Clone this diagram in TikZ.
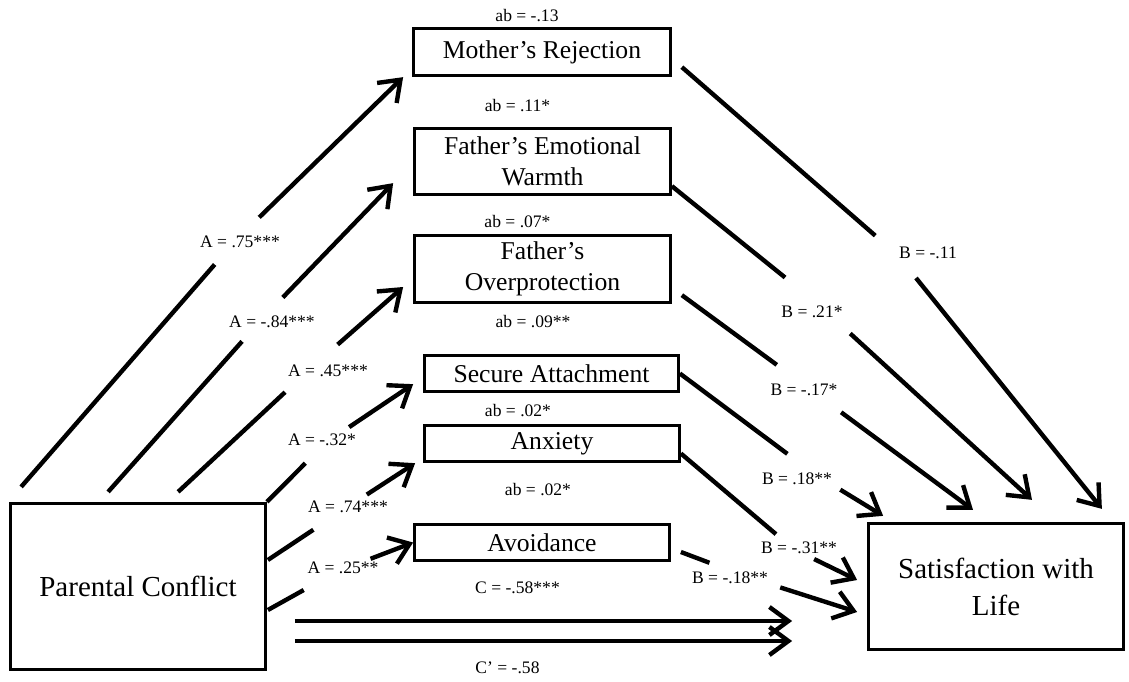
\documentclass[tikz,border=0pt]{standalone}
\usepackage{fontspec}
\setmainfont{Liberation Serif}
\usetikzlibrary{arrows.meta}
\tikzset{
  med/box/.style={
    draw=black,
    line width=1.6pt,
    fill=white,
    align=center,
    inner sep=2pt,
    font=\fontsize{14.6}{17.6}\selectfont
  },
  med/bigbox/.style={
    med/box,
    font=\fontsize{16.5}{21}\selectfont
  },
  med/coef/.style={font=\fontsize{10}{12}\selectfont, inner sep=1pt},
  med/line/.style={line width=2.5pt},
  med/arrow/.style={line width=2.5pt, -{Straight Barb[length=0.38cm,width=0.56cm]}}
}

\begin{document}
\begin{tikzpicture}[x=0.02cm,y=-0.02cm]
  \useasboundingbox (0,0) rectangle (1129,682);

  % constructs
  \node[med/box,minimum width=5.14cm,minimum height=0.95cm] (mr) at (542,52) {Mother’s Rejection};
  \node[med/box,minimum width=5.12cm,minimum height=1.33cm] (fw) at (542.5,161.5) {Father’s Emotional\\Warmth};
  \node[med/box,minimum width=5.12cm,minimum height=1.35cm] (fo) at (542.5,269) {Father’s\\Overprotection};
  \node[med/box,minimum width=5.08cm,minimum height=0.73cm] (sa) at (551.5,373.5) {Secure Attachment};
  \node[med/box,minimum width=5.1cm,minimum height=0.73cm] (ax) at (552,443.5) {Anxiety};
  \node[med/box,minimum width=5.1cm,minimum height=0.73cm] (av) at (542,542.5) {Avoidance};
  \node[med/bigbox,minimum width=5.1cm,minimum height=3.33cm] (pc) at (138,586.5) {Parental Conflict};
  \node[med/bigbox,minimum width=5.1cm,minimum height=2.53cm] (sw) at (996,586.5) {Satisfaction with\\Life};

  % indirect effects
  \node[med/coef] (ab1) at (527,16) {ab = -.13};
  \node[med/coef] (ab2) at (517.5,106) {ab = .11*};
  \node[med/coef] (ab3) at (517.5,222) {ab = .07*};
  \node[med/coef] (ab4) at (533,322) {ab = .09**};
  \node[med/coef] (ab5) at (518,411) {ab = .02*};
  \node[med/coef] (ab6) at (538,490) {ab = .02*};

  % a paths
  \node[med/coef] (la1) at (240,242) {A = .75***};
  \node[med/coef] (la2) at (272,322) {A = -.84***};
  \node[med/coef] (la3) at (328,371) {A = .45***};
  \node[med/coef] (la4) at (322,440) {A = -.32*};
  \node[med/coef] (la5) at (348,507) {A = .74***};
  \node[med/coef] (la6) at (343,568) {A = .25**};
  \coordinate (ka1) at (236,240);
  \coordinate (ka2) at (262,319);
  \coordinate (ka3) at (311,368);
  \coordinate (ka4) at (325.5,443);
  \coordinate (ka5) at (340,512);
  \coordinate (ka6) at (336,572);
  \draw[med/line,shorten >=0.65cm] ([shift={(12,-15)}]pc.north west) -- (ka1);
  \draw[med/arrow,shorten <=0.65cm] (ka1) -- ([shift={(-9,0)}]mr.south west);
  \draw[med/line,shorten >=0.6cm] ([shift={(99,-10)}]pc.north west) -- (ka2);
  \draw[med/arrow,shorten <=0.6cm] (ka2) -- ([shift={(-20,-13)}]fw.south west);
  \draw[med/line,shorten >=0.71cm] ([shift={(169,-10)}]pc.north west) -- (ka3);
  \draw[med/arrow,shorten <=0.71cm] (ka3) -- ([shift={(-10,18)}]fo.west);
  \draw[med/line,shorten >=0.57cm] (pc.north east) -- (ka4);
  \draw[med/arrow,shorten <=0.57cm] (ka4) -- ([shift={(-10,-9)}]sa.south west);
  \draw[med/line,shorten >=0.64cm] ([shift={(1,-26.5)}]pc.east) -- (ka5);
  \draw[med/arrow,shorten <=0.64cm] (ka5) -- ([shift={(-8,0)}]ax.south west);
  \draw[med/line,shorten >=0.74cm] ([shift={(1,23.5)}]pc.east) -- (ka6);
  \draw[med/arrow,shorten <=0.74cm] (ka6) -- (av.west);

  % b paths
  \node[med/coef] (lb1) at (928,253) {B = -.11};
  \node[med/coef] (lb2) at (812,312) {B = .21*};
  \node[med/coef] (lb3) at (804,390) {B = -.17*};
  \node[med/coef] (lb4) at (797,479) {B = .18**};
  \node[med/coef] (lb5) at (799,548) {B = -.31**};
  \node[med/coef] (lb6) at (730,578) {B = -.18**};
  \coordinate (kb1) at (897.5,255);
  \coordinate (kb2) at (818.5,304.5);
  \coordinate (kb3) at (809,388.5);
  \coordinate (kb4) at (813,473);
  \coordinate (kb5) at (793.5,549);
  \coordinate (kb6) at (744.5,576);
  \draw[med/line,shorten >=0.59cm] ([shift={(10,-10)}]mr.south east) -- (kb1);
  \draw[med/arrow,shorten <=0.59cm] (kb1) -- ([shift={(-23,-13)}]sw.north east);
  \draw[med/line,shorten >=0.86cm] ([shift={(0,-10)}]fw.south east) -- (kb2);
  \draw[med/arrow,shorten <=0.86cm] (kb2) -- ([shift={(36,-22)}]sw.north);
  \draw[med/line,shorten >=0.8cm] ([shift={(10,-9)}]fo.south east) -- (kb3);
  \draw[med/arrow,shorten <=0.8cm] (kb3) -- ([shift={(-23,-12)}]sw.north);
  \draw[med/line,shorten >=0.64cm] (sa.east) -- (kb4);
  \draw[med/arrow,shorten <=0.64cm] (kb4) -- ([shift={(16,-6)}]sw.north west);
  \draw[med/line,shorten >=0.46cm] ([shift={(0,10)}]ax.east) -- (kb5);
  \draw[med/arrow,shorten <=0.46cm] (kb5) -- ([shift={(-10,-6.5)}]sw.west);
  \draw[med/line,shorten >=0.75cm] ([shift={(10,9.5)}]av.east) -- (kb6);
  \draw[med/arrow,shorten <=0.75cm] (kb6) -- ([shift={(-10,25.5)}]sw.west);

  % c paths
  \node[med/coef] (lc) at (517.5,588) {C = -.58***};
  \node[med/coef] (lcp) at (507.5,668) {C’ = -.58};
  \draw[med/arrow] ([shift={(28,34.5)}]pc.east) -- ([shift={(-75,34.5)}]sw.west);
  \draw[med/arrow] ([shift={(28,54.5)}]pc.east) -- ([shift={(-75,54.5)}]sw.west);
\end{tikzpicture}
\end{document}
